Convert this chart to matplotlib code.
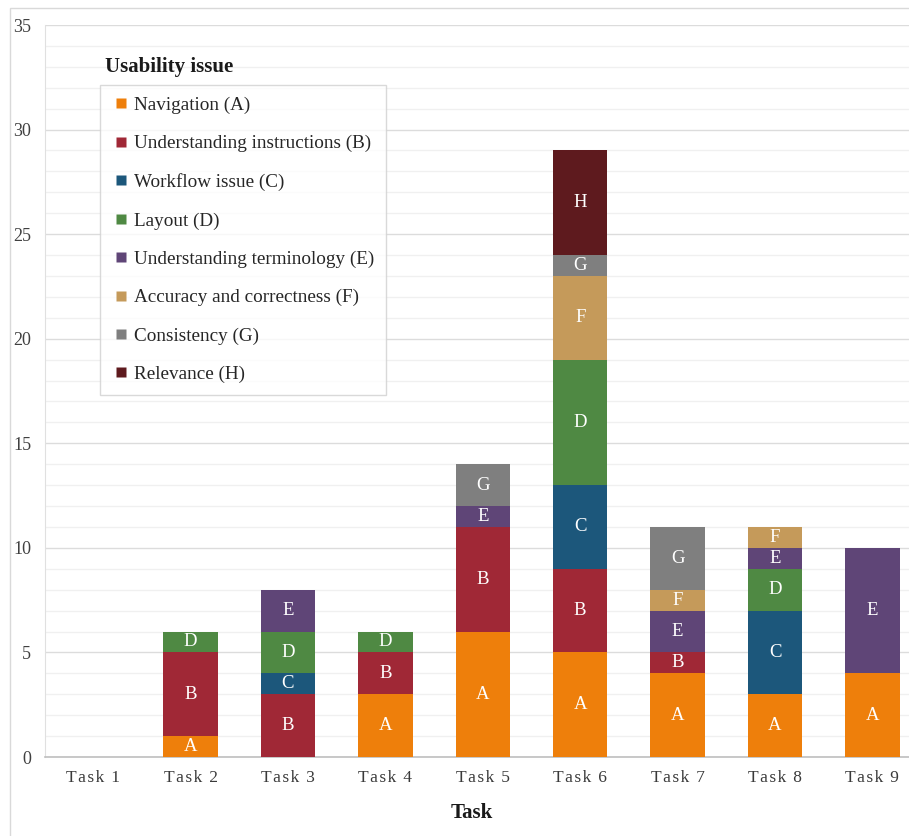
import matplotlib
matplotlib.use("Agg")
import matplotlib.pyplot as plt
from matplotlib.patches import Rectangle
from matplotlib.lines import Line2D
from matplotlib.ticker import MultipleLocator
import numpy as np

plt.rcParams["font.family"] = ["Liberation Serif", "DejaVu Serif"]

tasks = ["Task 1", "Task 2", "Task 3", "Task 4", "Task 5",
         "Task 6", "Task 7", "Task 8", "Task 9"]
issue_codes = ["A", "B", "C", "D", "E", "F", "G", "H"]
issue_names = ["Navigation (A)", "Understanding instructions (B)",
               "Workflow issue (C)", "Layout (D)",
               "Understanding terminology (E)", "Accuracy and correctness (F)",
               "Consistency (G)", "Relevance (H)"]

navigation = [0, 1, 0, 3, 6, 5, 4, 3, 4]
instructions = [0, 4, 3, 2, 5, 4, 1, 0, 0]
workflow = [0, 0, 1, 0, 0, 4, 0, 4, 0]
layout = [0, 1, 2, 1, 0, 6, 0, 2, 0]
terminology = [0, 0, 2, 0, 1, 0, 2, 1, 6]
accuracy = [0, 0, 0, 0, 0, 4, 1, 1, 0]
consistency = [0, 0, 0, 0, 2, 1, 3, 0, 0]
relevance = [0, 0, 0, 0, 0, 5, 0, 0, 0]

series = [navigation, instructions, workflow, layout,
          terminology, accuracy, consistency, relevance]
colors = ["#EE7F0B", "#A02836", "#1C577B", "#4F8943",
          "#5F4577", "#C59A5A", "#7F7F7F", "#5E1A1E"]

W, H = 909, 836
fig = plt.figure(figsize=(W / 100, H / 100), dpi=100)
fig.patch.set_facecolor("white")

# outer light frame
fig.add_artist(Rectangle((10 / W, -0.1), 1.1, (H - 8) / H + 0.1,
                         transform=fig.transFigure, fill=False,
                         ec="#D9D9D9", lw=1.0))

step = 97.4
left = 44.5
ax = fig.add_axes([left / W, (H - 757) / H, 9 * step / W, (757 - 25) / H])

x = np.arange(len(tasks))
bottom = np.zeros(len(tasks))
for code, vals, col in zip(issue_codes, series, colors):
    vals = np.array(vals, dtype=float)
    ax.bar(x, vals, 0.56, bottom=bottom, color=col, zorder=3)
    for xi, v, b in zip(x, vals, bottom):
        if v > 0:
            ax.text(xi, b + v / 2, code, ha="center", va="center",
                    color="white", fontsize=13.5, zorder=4)
    bottom += vals

ax.set_xlim(-0.5, 8.5)
ax.set_ylim(0, 35)
ax.yaxis.set_major_locator(MultipleLocator(5))
ax.yaxis.set_minor_locator(MultipleLocator(1))
ax.grid(which="minor", axis="y", color="#F0F0F0", lw=1.0, zorder=0)
ax.grid(which="major", axis="y", color="#DCDCDC", lw=1.0, zorder=1)
ax.tick_params(which="both", length=0)
ax.tick_params(axis="y", labelsize=13, labelcolor="#404040", pad=9.5)
ax.set_xticks(x)
spaced = ["\u200a".join(t.replace(" ", "")[:-1]) + "\u2009\u2009" + t[-1]
          for t in tasks]
ax.set_xticklabels(spaced, fontsize=12.5, color="#3a3a3a")
ax.tick_params(axis="x", pad=9)
for s in ("top", "right"):
    ax.spines[s].set_visible(False)
ax.spines["left"].set_color("#E0E0E0")
ax.spines["bottom"].set_color("#BFBFBF")
ax.spines["bottom"].set_linewidth(1.2)

fig.text(472 / W, 1 - 813 / H, "Task", ha="center", va="center",
         fontsize=15, fontweight="bold", color="#1a1a1a")

handles = [Line2D([], [], ls="none", marker="s", markersize=7,
                  markerfacecolor=c, markeredgecolor="none") for c in colors]
leg = ax.legend(handles, issue_names, loc="upper left",
                bbox_to_anchor=((100 - left) / (9 * step), (757 - 85) / 732),
                fontsize=13.8, frameon=True, fancybox=False,
                handlelength=1.0, handletextpad=0.2,
                labelspacing=1.09, borderpad=0.6, borderaxespad=0)
leg.get_frame().set_edgecolor("#D0D0D0")
leg.get_frame().set_linewidth(1.0)
for t in leg.get_texts():
    t.set_color("#262626")

fig.text(105 / W, 1 - 67 / H, "Usability issue", ha="left", va="center",
         fontsize=15, fontweight="bold", color="#1a1a1a")

fig.savefig("out.png", dpi=100, facecolor="white")
